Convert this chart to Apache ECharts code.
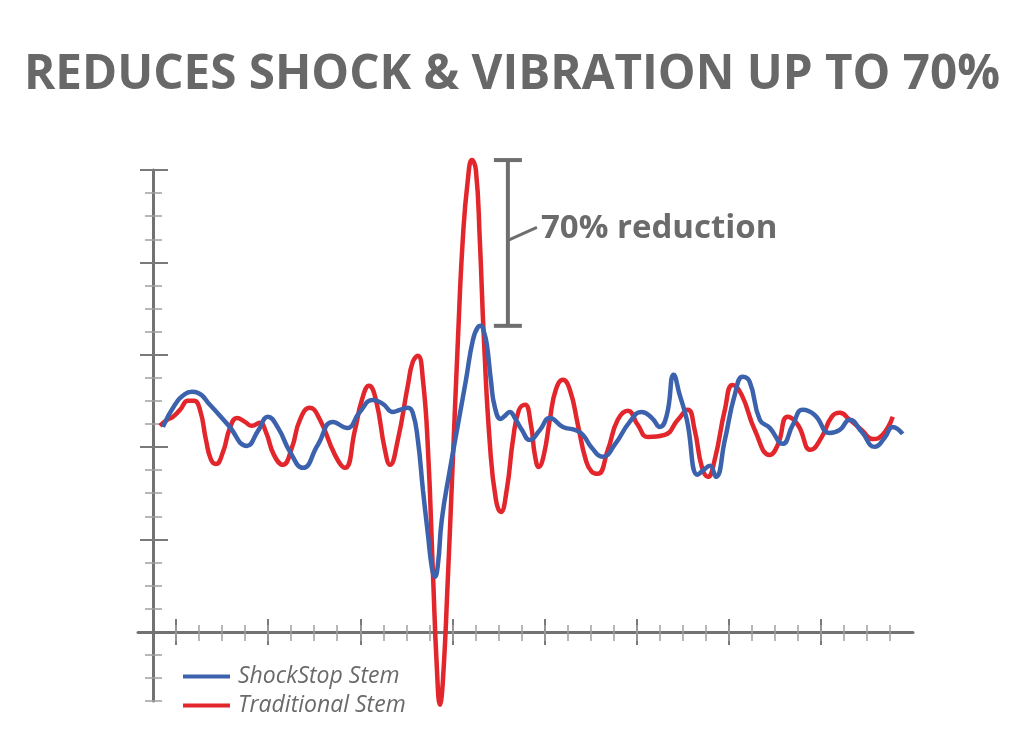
<!DOCTYPE html>
<html>
<head>
<meta charset="UTF-8">
<title>Reduces shock &amp; vibration</title>
<script src="https://cdn.jsdelivr.net/npm/echarts@6/dist/echarts.min.js"></script>
<style>
html, body { margin: 0; padding: 0; background: #fff; }
#main { width: 1024px; height: 747px; }
</style>
</head>
<body>
<div id="main"></div>
<script type="text/javascript">
// time in minor-tick steps, amplitude in minor-tick steps (x axis = 0)
var shockStopT = [0.43, 0.95, 1.39, 1.69, 1.95, 2.47, 3.26, 4.08, 4.56, 4.99, 5.43, 5.95, 6.51, 7.16, 7.81, 8.42, 8.98, 9.55, 9.98, 10.42,
	10.72, 11.07, 11.28, 11.50, 11.72, 11.94, 12.11, 12.24, 12.37, 12.54, 12.89, 13.24, 13.59, 13.89, 14.11, 14.24, 14.37, 14.50, 14.67, 14.84,
	15.10, 15.28, 15.49, 15.71, 16.02, 16.36, 16.80, 17.23, 17.80, 18.32, 18.66, 19.05, 19.53, 20.05, 20.70, 21.22, 21.66, 22.01, 22.31, 22.61,
	22.87, 23.18, 23.65, 23.91, 24.18, 24.44, 24.83, 25.26, 25.61, 25.91, 26.35, 26.78, 27.34, 27.78, 28.21, 28.73, 29.38, 29.82, 30.25, 30.77,
	31.34, 31.77, 32.12, 32.55];
var shockStopV = [8.87, 9.83, 10.30, 10.39, 10.35, 9.83, 8.96, 8.05, 8.70, 9.31, 8.83, 7.79, 7.10, 8.10, 9.09, 8.83, 9.52, 10.04, 9.87, 9.52,
	9.61, 9.70, 9.48, 8.31, 6.15, 4.20, 2.77, 2.38, 2.90, 4.85, 7.01, 8.96, 10.91, 12.64, 13.20, 13.25, 12.99, 12.42, 10.91, 9.74,
	9.22, 9.35, 9.52, 9.26, 8.74, 8.31, 8.74, 9.26, 8.87, 8.74, 8.53, 7.97, 7.58, 8.10, 9.09, 9.52, 9.26, 8.87, 9.39, 11.13,
	10.26, 9.18, 6.80, 7.01, 7.19, 6.71, 8.31, 10.26, 11.04, 10.82, 9.18, 8.83, 8.14, 8.96, 9.61, 9.39, 8.61, 8.74, 9.18, 8.66,
	8.01, 8.40, 8.87, 8.57];

var traditionalT = [0.30, 0.61, 0.87, 1.17, 1.52, 1.78, 2.04, 2.30, 2.52, 2.73, 3.04, 3.34, 3.65, 3.99, 4.30, 4.64, 4.90, 5.25, 5.64, 6.03,
	6.38, 6.81, 7.25, 7.90, 8.33, 8.77, 9.07, 9.38, 9.68, 10.07, 10.29, 10.63, 11.07, 11.28, 11.50, 11.72, 11.94, 12.15, 12.33, 12.46,
	12.59, 12.80, 13.02, 13.24, 13.45, 13.67, 13.85, 14.02, 14.19, 14.37, 14.63, 14.89, 15.10, 15.36, 15.63, 15.89, 16.15, 16.41, 16.58, 16.75,
	16.97, 17.23, 17.49, 17.80, 18.10, 18.45, 18.79, 19.05, 19.31, 19.75, 20.18, 20.62, 21.05, 21.48, 22.22, 22.79, 23.22, 23.52, 23.83, 24.09,
	24.39, 24.83, 25.17, 25.56, 26.13, 26.78, 27.13, 27.56, 28.00, 28.56, 29.04, 29.47, 29.82, 30.25, 30.77, 31.25, 31.68, 32.12];
var traditionalV = [8.92, 9.18, 9.31, 9.61, 10.00, 10.00, 9.61, 8.31, 7.45, 7.27, 7.79, 8.83, 9.26, 9.09, 8.92, 9.05, 8.66, 7.66, 7.23, 7.97,
	9.18, 9.70, 9.18, 7.66, 7.10, 8.74, 10.04, 10.65, 10.04, 7.88, 7.23, 8.31, 10.69, 11.69, 11.95, 10.91, 7.88, 2.68, -1.65, -3.16,
	-2.08, 2.25, 7.45, 12.64, 16.97, 19.57, 20.43, 20.00, 16.97, 12.64, 8.10, 5.71, 5.19, 6.15, 8.31, 9.61, 9.83, 8.96, 7.66, 7.14,
	7.66, 9.18, 10.48, 10.91, 10.48, 8.96, 7.45, 6.93, 6.84, 7.88, 9.18, 9.57, 8.96, 8.44, 8.53, 9.18, 9.61, 8.74, 7.14, 6.71,
	7.45, 9.61, 10.69, 10.26, 8.74, 7.66, 8.10, 9.31, 8.96, 7.88, 8.44, 9.31, 9.48, 9.18, 8.74, 8.35, 8.53, 9.31];

var xMajorTicks = [1, 5, 9, 13, 17, 21, 25, 29];
var xMinorTicks = [1, 2, 3, 4, 5, 6, 7, 8, 9, 10, 11, 12, 13, 14, 15, 16, 17, 18, 19, 20, 21, 22, 23, 24, 25, 26, 27, 28, 29, 30, 31, 32];
var yMajorTicks = [4, 8, 12, 16, 20];
var yMinorTicks = [-3, -2, -1, 1, 2, 3, 5, 6, 7, 9, 10, 11, 13, 14, 15, 17, 18, 19];

var bracketT = 15.41;
var BLUE = '#3d62ad', RED = '#e2262c', GREY = '#727272';

function zip(ts, vs) {
	var out = [];
	for (var i = 0; i < ts.length; i++) out.push([ts[i], vs[i]]);
	return out;
}

function tickAxis(grid, min, max, pos, values, len, inside, width, color) {
	return {
		type : 'value', gridIndex : grid, min : min, max : max, position : pos,
		axisLine : { show : false, onZero : false },
		axisTick : { show : true, customValues : values, length : len, inside : inside,
			lineStyle : { color : color, width : width } },
		axisLabel : { show : false },
		splitLine : { show : false }
	};
}

var redPeak = Math.max.apply(null, traditionalV);
var bluePeak = Math.max.apply(null, shockStopV);

var myChart = echarts.init(document.getElementById('main'));
var option = {
	animation : false,
	backgroundColor : '#fff',
	title : {
		text : 'REDUCES SHOCK & VIBRATION UP TO 70%',
		left : 'center',
		top : 46,
		textStyle : { fontFamily : 'Open Sans', fontWeight : 'bold', fontSize : 47.6, color : '#686868' }
	},
	legend : {
		orient : 'vertical',
		left : 183,
		top : 665,
		padding : 0,
		itemWidth : 47,
		itemHeight : 4,
		itemGap : 6,
		icon : 'rect',
		data : [ 'ShockStop Stem', 'Traditional Stem' ],
		textStyle : { fontFamily : 'Open Sans', fontStyle : 'italic', fontWeight : 'normal', fontSize : 23, color : '#6a6a6a', padding : [0, 0, 0, 3] }
	},
	grid : [
		{ left : 138, width : 775, top : 170, height : 462 },
		{ left : 153, width : 760, top : 170, height : 531 }
	],
	xAxis : [
		{ type : 'value', gridIndex : 0, min : -0.65, max : 33, position : 'bottom',
			axisLine : { show : true, onZero : false, lineStyle : { color : GREY, width : 3 } },
			axisTick : { show : false }, axisLabel : { show : false }, splitLine : { show : false } },
		tickAxis(0, -0.65, 33, 'bottom', xMajorTicks, 13, false, 2, '#7a7a7a'),
		tickAxis(0, -0.65, 33, 'bottom', xMajorTicks, 13, true, 2, '#7a7a7a'),
		tickAxis(0, -0.65, 33, 'bottom', xMinorTicks, 9, false, 1.5, '#a0a0a0'),
		tickAxis(0, -0.65, 33, 'bottom', xMinorTicks, 7, true, 1.5, '#a0a0a0'),
		{ type : 'value', gridIndex : 1, min : 0, max : 33, show : false }
	],
	yAxis : [
		{ type : 'value', gridIndex : 0, min : 0, max : 20, show : false },
		{ type : 'value', gridIndex : 1, min : -3, max : 20, position : 'left',
			axisLine : { show : true, onZero : false, lineStyle : { color : GREY, width : 3 } },
			axisTick : { show : false }, axisLabel : { show : false }, splitLine : { show : false } },
		tickAxis(1, -3, 20, 'left', yMajorTicks, 13, false, 2, '#7a7a7a'),
		tickAxis(1, -3, 20, 'left', yMajorTicks, 15, true, 2, '#7a7a7a'),
		tickAxis(1, -3, 20, 'left', yMinorTicks, 8, false, 1.5, '#a0a0a0'),
		tickAxis(1, -3, 20, 'left', yMinorTicks, 9, true, 1.5, '#a0a0a0')
	],
	series : [ {
		name : 'Traditional Stem',
		type : 'line',
		xAxisIndex : 5,
		yAxisIndex : 1,
		data : zip(traditionalT, traditionalV),
		smooth : 0.5,
		showSymbol : false,
		clip : false,
		color : RED,
		lineStyle : { color : RED, width : 4.5 }
	}, {
		name : 'ShockStop Stem',
		type : 'line',
		xAxisIndex : 5,
		yAxisIndex : 1,
		data : zip(shockStopT, shockStopV),
		smooth : 0.5,
		showSymbol : false,
		clip : false,
		color : BLUE,
		lineStyle : { color : BLUE, width : 4.5 }
	}, {
		// bracket between the two peaks
		type : 'custom',
		xAxisIndex : 5,
		yAxisIndex : 1,
		silent : true,
		data : [ [ bracketT, redPeak, bluePeak ] ],
		renderItem : function(params, api) {
			var top = api.coord([ api.value(0), api.value(1) ]);
			var bot = api.coord([ api.value(0), api.value(2) ]);
			var x = top[0];
			var cy = top[1] + (bot[1] - top[1]) * 0.485;
			var st = { stroke : '#6e6e6e', lineWidth : 4 };
			return {
				type : 'group',
				children : [
					{ type : 'line', shape : { x1 : x, y1 : top[1], x2 : x, y2 : bot[1] }, style : st },
					{ type : 'line', shape : { x1 : x - 14, y1 : top[1], x2 : x + 14, y2 : top[1] }, style : st },
					{ type : 'line', shape : { x1 : x - 14, y1 : bot[1], x2 : x + 14, y2 : bot[1] }, style : st },
					{ type : 'line', shape : { x1 : x, y1 : cy, x2 : x + 29, y2 : cy - 13 }, style : { stroke : '#6e6e6e', lineWidth : 3 } },
					{ type : 'text', x : x + 33, y : cy - 12,
						style : { text : '70% reduction', fill : '#6b6b6b', font : 'bold 33px "Open Sans"', verticalAlign : 'middle' } }
				]
			};
		}
	} ]
};
myChart.setOption(option);
</script>
</body>
</html>
